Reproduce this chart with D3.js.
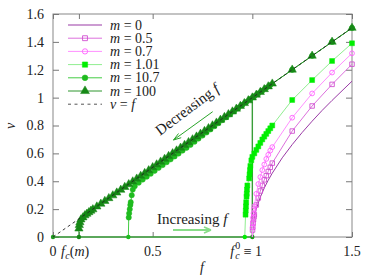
<!DOCTYPE html>
<html>
<head>
<meta charset="utf-8">
<script src="https://cdn.jsdelivr.net/npm/d3@7"></script>
<style>
  body { margin: 0; background: #fff; }
  svg text { font-family: "Liberation Serif", "DejaVu Serif", serif !important; fill: #222; }
</style>
</head>
<body>
<svg width="374" height="280"></svg>
<script>
// m = 0 (line only)
const m0F = [1, 1.005, 1.01, 1.02, 1.04, 1.06, 1.08, 1.1, 1.15, 1.2, 1.25, 1.3, 1.35, 1.4, 1.45, 1.5];
const m0V = [0, 0.1, 0.142, 0.201, 0.286, 0.352, 0.408, 0.458, 0.568, 0.663, 0.75, 0.831, 0.908, 0.98, 1.049, 1.118];

// m = 0.5
const m05F = [1, 1.001, 1.002, 1.004, 1.006, 1.008, 1.01, 1.02, 1.03, 1.04, 1.05, 1.06, 1.07, 1.08, 1.09, 1.1, 1.2, 1.3, 1.4, 1.5];
const m05V = [0, 0.05, 0.07, 0.1, 0.125, 0.145, 0.16, 0.23, 0.28, 0.33, 0.37, 0.41, 0.44, 0.47, 0.5, 0.53, 0.76, 0.94, 1.095, 1.24];

// m = 0.7
const m07F = [1, 1.001, 1.002, 1.004, 1.006, 1.008, 1.01, 1.02, 1.03, 1.04, 1.05, 1.06, 1.07, 1.08, 1.09, 1.1, 1.2, 1.3, 1.4, 1.5];
const m07V = [0, 0.07, 0.1, 0.14, 0.17, 0.2, 0.22, 0.31, 0.38, 0.43, 0.48, 0.52, 0.56, 0.59, 0.62, 0.645, 0.856, 1.03, 1.18, 1.318];

// m = 1.01 (decreasing f)
const m101F = [0.962, 0.966, 0.967, 0.968, 0.969, 0.971, 0.972, 0.973, 0.975, 0.984, 0.986, 0.988, 0.99, 0.995, 1.0, 1.01, 1.02, 1.03, 1.04, 1.05, 1.06, 1.07, 1.08, 1.09, 1.1, 1.2, 1.3, 1.4, 1.5];
const m101V = [0, 0.16, 0.19, 0.22, 0.25, 0.29, 0.31, 0.34, 0.37, 0.42, 0.45, 0.48, 0.51, 0.55, 0.575, 0.6, 0.625, 0.65, 0.675, 0.7, 0.72, 0.74, 0.76, 0.78, 0.8, 0.983, 1.126, 1.263, 1.39];

// m = 10.7 (decreasing f)
const m107F = [0.378, 0.38, 0.382, 0.385, 0.388, 0.39, 0.395, 0.4, 0.41, 0.43, 0.45, 0.47, 0.49, 0.51, 0.53, 0.55, 0.57, 0.59, 0.61, 0.63, 0.65, 0.67, 0.69, 0.71, 0.73, 0.75, 0.77, 0.79, 0.81, 0.83, 0.85, 0.87, 0.89, 0.91, 0.93, 0.95, 0.97, 0.99, 1.01, 1.03, 1.05, 1.07, 1.09, 1.2, 1.3, 1.4, 1.5];
const m107V = [0, 0.14, 0.17, 0.2, 0.23, 0.25, 0.3, 0.34, 0.365, 0.39, 0.412, 0.433, 0.454, 0.475, 0.496, 0.516, 0.537, 0.557, 0.578, 0.599, 0.62, 0.64, 0.661, 0.684, 0.706, 0.728, 0.75, 0.772, 0.795, 0.817, 0.839, 0.86, 0.882, 0.904, 0.926, 0.947, 0.968, 0.99, 1.01, 1.03, 1.05, 1.07, 1.09, 1.2, 1.3, 1.4, 1.5];

// m = 100 (decreasing f)
const m100F = [0.13, 0.13, 0.132, 0.135, 0.14, 0.15, 0.16, 0.17, 0.18, 0.19, 0.2, 0.22, 0.24, 0.26, 0.28, 0.3, 0.32, 0.34, 0.36, 0.38, 0.4, 0.42, 0.44, 0.46, 0.48, 0.5, 0.52, 0.54, 0.56, 0.58, 0.6, 0.62, 0.64, 0.66, 0.68, 0.7, 0.72, 0.74, 0.76, 0.78, 0.8, 0.82, 0.84, 0.86, 0.88, 0.9, 0.92, 0.94, 0.96, 0.98, 1.0, 1.02, 1.04, 1.06, 1.08, 1.1, 1.2, 1.3, 1.4, 1.5];
const m100V = [0, 0.06, 0.085, 0.105, 0.125, 0.14, 0.155, 0.166, 0.177, 0.188, 0.198, 0.218, 0.238, 0.258, 0.278, 0.298, 0.318, 0.338, 0.358, 0.378, 0.398, 0.418, 0.438, 0.458, 0.478, 0.5, 0.52, 0.54, 0.56, 0.58, 0.6, 0.62, 0.64, 0.66, 0.68, 0.7, 0.72, 0.74, 0.76, 0.78, 0.8, 0.82, 0.84, 0.86, 0.88, 0.9, 0.92, 0.94, 0.96, 0.98, 1.0, 1.02, 1.04, 1.06, 1.08, 1.1, 1.2, 1.3, 1.4, 1.5];

// increasing f branch (v = 0 until f = 1, then jump)
const incF = [0, 1, 1];
const incV = [0, 0, 1.0];

// v = f reference
const refF = [0, 1.5];
const refV = [0, 1.5];

const xTicks = [0, 0.13, 0.5, 1, 1.5];
const yTicks = [0, 0.2, 0.4, 0.6, 0.8, 1, 1.2, 1.4, 1.6];
const legendLabels = ['0', '0.5', '0.7', '1.01', '10.7', '100'];

const FONT = '"Liberation Serif", "DejaVu Serif", serif';
const L = 53, R = 352, T = 14, B = 237;
const svg = d3.select('svg').attr('font-family', FONT);

const x = d3.scaleLinear().domain([0, 1.5]).range([L, R]);
const y = d3.scaleLinear().domain([0, 1.6]).range([B, T]);

const zip = (fs, vs) => fs.map((f, i) => ({ f, v: vs[i] }));
const line = d3.line().x(d => x(d.f)).y(d => y(d.v));

const series = [
  { name: legendLabels[0], data: zip(m0F, m0V), line: '#9a3aa6', mark: '#9a3aa6', sym: null },
  { name: legendLabels[1], data: zip(m05F, m05V), line: '#dd70dd', mark: '#d050d0', sym: d3.symbolSquare, open: true, size: 20 },
  { name: legendLabels[2], data: zip(m07F, m07V), line: '#ff90ff', mark: '#ff60ff', sym: d3.symbolCircle, open: true, size: 18 },
  { name: legendLabels[3], data: zip(m101F, m101V), line: '#90ee90', mark: '#00ee00', sym: d3.symbolSquare, size: 24 },
  { name: legendLabels[4], data: zip(m107F, m107V), line: '#44cc44', mark: '#1fbb1f', sym: d3.symbolCircle, size: 22 },
  { name: legendLabels[5], data: zip(m100F, m100V), line: '#2f962f', mark: '#168816', sym: d3.symbolTriangle, size: 30 }
];

// frame
svg.append('rect')
  .attr('x', L).attr('y', T).attr('width', R - L).attr('height', B - T)
  .attr('fill', 'none').attr('stroke', '#888').attr('stroke-width', 1);

// axes (inward ticks on all four sides)
const axisStyle = g => {
  g.attr('font-family', FONT);
  g.select('.domain').remove();
  g.selectAll('.tick line').attr('stroke', '#777');
};
svg.append('g').attr('transform', `translate(${L},0)`)
  .call(d3.axisLeft(y).tickValues(yTicks).tickSize(-6).tickPadding(9).tickFormat(d3.format('~g')))
  .call(axisStyle)
  .call(g => g.selectAll('text').attr('font-size', 14).attr('fill', '#222'));
svg.append('g').attr('transform', `translate(${R},0)`)
  .call(d3.axisRight(y).tickValues(yTicks).tickSize(-6).tickFormat(''))
  .call(axisStyle);
svg.append('g').attr('transform', `translate(0,${B})`)
  .call(d3.axisBottom(x).tickValues(xTicks).tickSize(-5).tickFormat(''))
  .call(axisStyle);
svg.append('g').attr('transform', `translate(0,${T})`)
  .call(d3.axisTop(x).tickValues(xTicks).tickSize(-5).tickFormat(''))
  .call(axisStyle);

// x tick labels
const xl = svg.append('g').attr('font-size', 14);
xl.append('text').attr('x', x(xTicks[0])).attr('y', 256).attr('text-anchor', 'middle').text('0');
const fcm = xl.append('text').attr('x', x(xTicks[1]) - 18).attr('y', 256);
fcm.append('tspan').attr('font-style', 'italic').text('f');
fcm.append('tspan').attr('font-style', 'italic').attr('font-size', 10).attr('dy', 3).attr('dx', 0.5).text('c');
fcm.append('tspan').attr('dy', -3).text('(');
fcm.append('tspan').attr('font-style', 'italic').text('m');
fcm.append('tspan').text(')');
xl.append('text').attr('x', x(xTicks[2])).attr('y', 256).attr('text-anchor', 'middle').text('0.5');
const fc0 = xl.append('text').attr('x', x(xTicks[3]) - 22).attr('y', 256);
fc0.append('tspan').attr('font-style', 'italic').text('f');
fc0.append('tspan').attr('font-size', 10).attr('dy', -7).attr('dx', 1).text('0');
fc0.append('tspan').attr('font-style', 'italic').attr('font-size', 10).attr('dy', 10).attr('dx', -5).text('c');
fc0.append('tspan').attr('dy', -3).attr('dx', 4).text('\u2261 1');
xl.append('text').attr('x', x(xTicks[4])).attr('y', 256).attr('text-anchor', 'middle').text('1.5');

// axis titles
svg.append('text').attr('x', 202).attr('y', 272).attr('text-anchor', 'middle')
  .attr('font-size', 14).attr('font-style', 'italic').text('f');
svg.append('text').attr('transform', 'translate(15,126) rotate(-90)').attr('text-anchor', 'middle')
  .attr('font-size', 14).attr('font-style', 'italic').text('v');

const plot = svg.append('g');

// increasing-f branch
plot.append('path').datum(zip(incF, incV))
  .attr('d', line).attr('fill', 'none').attr('stroke', '#3a9e3a').attr('stroke-width', 1.4);
plot.selectAll('.incpt').data(zip(incF, incV).slice(0, 2)).enter()
  .append('circle').attr('cx', d => x(d.f)).attr('cy', d => y(d.v)).attr('r', 2.2).attr('fill', '#1f9a1f');

// series lines and markers
series.forEach(s => {
  plot.append('path').datum(s.data)
    .attr('d', line).attr('fill', 'none').attr('stroke', s.line).attr('stroke-width', 1);
  if (!s.sym) return;
  plot.selectAll(null).data(s.data.filter(d => d.v > 0)).enter()
    .append('path')
    .attr('transform', d => `translate(${x(d.f)},${y(d.v)})`)
    .attr('d', d3.symbol(s.sym, s.size))
    .attr('fill', s.open ? 'none' : s.mark)
    .attr('stroke', s.mark).attr('stroke-width', s.open ? 0.9 : 0.5);
  // point where branch falls to zero
  plot.selectAll(null).data(s.data.filter(d => d.v === 0 && d.f < 1)).enter()
    .append('circle').attr('cx', d => x(d.f)).attr('cy', d => y(d.v)).attr('r', 2.2).attr('fill', s.mark);
});

// v = f dashed reference
plot.append('path').datum(zip(refF, refV))
  .attr('d', line).attr('fill', 'none').attr('stroke', '#222')
  .attr('stroke-width', 0.9).attr('stroke-dasharray', '3,3');

// annotations
const dec = svg.append('text').attr('transform', 'translate(160,136) rotate(-37)')
  .attr('font-size', 15);
dec.append('tspan').text('Decreasing ');
dec.append('tspan').attr('font-style', 'italic').text('f');
svg.append('path').attr('d', 'M212.7,111.7 L173.5,140 M173.5,140 L178.5,133.5 M173.5,140 L181.2,137.7')
  .attr('fill', 'none').attr('stroke', '#2aa52a').attr('stroke-width', 1);

const inc = svg.append('text').attr('x', 157).attr('y', 224).attr('font-size', 15);
inc.append('tspan').text('Increasing ');
inc.append('tspan').attr('font-style', 'italic').text('f');
svg.append('path').attr('d', 'M173,230 L211,230 M211,230 L204,227 M211,230 L204,233')
  .attr('fill', 'none').attr('stroke', '#88dd88').attr('stroke-width', 1.8);

// legend
const lg = svg.append('g');
const rowY = i => 25 + i * 13.2;
series.forEach((s, i) => {
  lg.append('line').attr('x1', 68).attr('x2', 102).attr('y1', rowY(i)).attr('y2', rowY(i))
    .attr('stroke', s.line).attr('stroke-width', i === 0 ? 1.2 : 1);
  if (s.sym) {
    lg.append('path').attr('transform', `translate(85,${rowY(i)})`)
      .attr('d', d3.symbol(s.sym, s.size + 4))
      .attr('fill', s.open ? 'none' : s.mark)
      .attr('stroke', s.mark).attr('stroke-width', s.open ? 0.9 : 0.5);
  }
  const t = lg.append('text').attr('x', 110).attr('y', rowY(i) + 4.5).attr('font-size', 14);
  t.append('tspan').attr('font-style', 'italic').text('m');
  t.append('tspan').text(' = ' + s.name);
});
lg.append('line').attr('x1', 68).attr('x2', 102).attr('y1', rowY(6)).attr('y2', rowY(6))
  .attr('stroke', '#555').attr('stroke-width', 1).attr('stroke-dasharray', '3,3.5');
const vf = lg.append('text').attr('x', 110).attr('y', rowY(6) + 4.5).attr('font-size', 14);
vf.append('tspan').attr('font-style', 'italic').text('v');
vf.append('tspan').text(' = ');
vf.append('tspan').attr('font-style', 'italic').text('f');
</script>
</body>
</html>
